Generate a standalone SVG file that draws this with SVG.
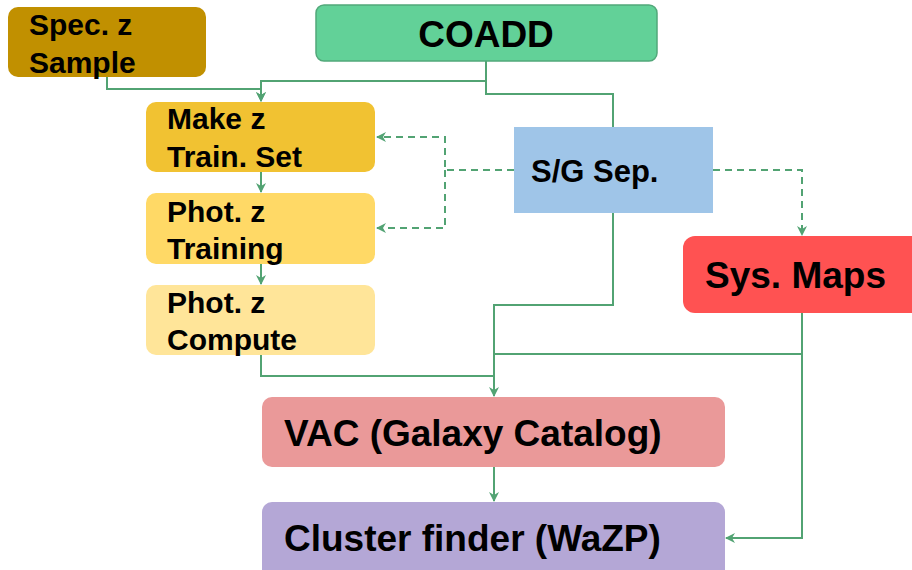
<svg xmlns="http://www.w3.org/2000/svg" width="912" height="570" viewBox="0 0 912 570">
  <style>
    .lbl { font-family: "Liberation Sans", Arial, sans-serif; font-weight: bold; fill: #000; }
    .s30 { font-size: 30px; }
    .s31 { font-size: 31px; }
    .s37 { font-size: 37px; }
    .edge { fill: none; stroke: #52a373; stroke-width: 2; }
    .dash { stroke-dasharray: 7 5; }
  </style>
  <defs>
    <marker id="arr" viewBox="0 0 10 10" refX="9" refY="5" markerWidth="10" markerHeight="10" markerUnits="userSpaceOnUse" orient="auto">
      <path d="M0,0 L10,5 L0,10 L3,5 z" fill="#52a373"/>
    </marker>
  </defs>

  <rect width="912" height="570" fill="#ffffff"/>

  <!-- connectors -->
  <g id="connectors">
    <path class="edge" d="M107,77 V89 H261 V101" marker-end="url(#arr)"/>
    <path class="edge" d="M486,61 V81 H261 V101" marker-end="url(#arr)"/>
    <path class="edge" d="M486,61 V94 H613 V127"/>
    <path class="edge" d="M261,172 V192" marker-end="url(#arr)"/>
    <path class="edge" d="M261,264 V284" marker-end="url(#arr)"/>
    <path class="edge dash" d="M514,170 H445 V137 H377" marker-end="url(#arr)"/>
    <path class="edge dash" d="M445,170 V228 H377" marker-end="url(#arr)"/>
    <path class="edge dash" d="M713,170 H802 V235" marker-end="url(#arr)"/>
    <path class="edge" d="M613,213 V305 H494 V396" marker-end="url(#arr)"/>
    <path class="edge" d="M261,355 V376 H494"/>
    <path class="edge" d="M802,313 V354 H494"/>
    <path class="edge" d="M802,354 V538 H726" marker-end="url(#arr)"/>
    <path class="edge" d="M494,467 V501" marker-end="url(#arr)"/>
  </g>

  <g id="spec-z-sample">
    <rect x="8" y="7" width="198" height="70" rx="10" fill="#c19000"/>
    <text class="lbl s30" x="29" y="35">Spec. z</text>
    <text class="lbl s30" x="29" y="73">Sample</text>
  </g>

  <g id="coadd">
    <rect x="316" y="5" width="341" height="56" rx="8" fill="#62d198" stroke="#52a87a" stroke-width="1.5"/>
    <text class="lbl s37" x="486" y="47" text-anchor="middle">COADD</text>
  </g>

  <g id="make-z-train-set">
    <rect x="146" y="102" width="229" height="70" rx="10" fill="#f1c232"/>
    <text class="lbl s30" x="167" y="129">Make z</text>
    <text class="lbl s30" x="167" y="167">Train. Set</text>
  </g>

  <g id="phot-z-training">
    <rect x="146" y="193" width="229" height="71" rx="10" fill="#ffd966"/>
    <text class="lbl s30" x="167" y="222">Phot. z</text>
    <text class="lbl s30" x="167" y="259">Training</text>
  </g>

  <g id="phot-z-compute">
    <rect x="146" y="285" width="229" height="70" rx="10" fill="#ffe599"/>
    <text class="lbl s30" x="167" y="313">Phot. z</text>
    <text class="lbl s30" x="167" y="350">Compute</text>
  </g>

  <g id="sg-sep">
    <rect x="514" y="127" width="199" height="86" fill="#9fc5e8"/>
    <text class="lbl s31" x="531" y="182">S/G Sep.</text>
  </g>

  <g id="sys-maps">
    <rect x="683" y="236" width="240" height="77" rx="12" fill="#ff5252"/>
    <text class="lbl s37" x="705" y="288">Sys. Maps</text>
  </g>

  <g id="vac">
    <rect x="262" y="397" width="463" height="70" rx="10" fill="#ea9999"/>
    <text class="lbl s37" x="284" y="446">VAC (Galaxy Catalog)</text>
  </g>

  <g id="cluster-finder">
    <rect x="262" y="502" width="463" height="80" rx="10" fill="#b4a7d6"/>
    <text class="lbl s37" x="284" y="551">Cluster finder (WaZP)</text>
  </g>
</svg>
